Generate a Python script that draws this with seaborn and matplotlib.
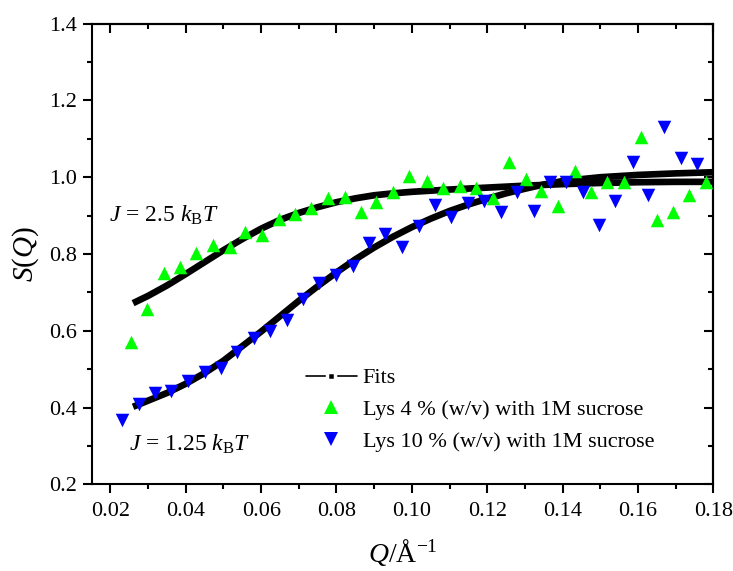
import numpy as np
import pandas as pd
import matplotlib
matplotlib.use("Agg")
import matplotlib.pyplot as plt
from matplotlib.lines import Line2D
from matplotlib.ticker import MultipleLocator
import seaborn as sns

# Measured structure factor, Lys 4 % (w/v) with 1M sucrose
q_lys4 = [0.0255, 0.0297, 0.0341, 0.0384, 0.0428, 0.0472, 0.0516, 0.0558, 0.0602,
          0.0647, 0.0689, 0.0733, 0.0777, 0.0822, 0.0864, 0.0906, 0.0951, 0.0993,
          0.1039, 0.1083, 0.1127, 0.1171, 0.1215, 0.1258, 0.1302, 0.1344, 0.1389,
          0.1433, 0.1475, 0.1519, 0.1563, 0.1608, 0.1652, 0.1692, 0.1736, 0.1782]
s_lys4 = [0.571, 0.656, 0.751, 0.765, 0.802, 0.823, 0.818, 0.857, 0.849,
          0.891, 0.903, 0.921, 0.945, 0.949, 0.909, 0.935, 0.961, 1.003,
          0.991, 0.971, 0.978, 0.971, 0.945, 1.041, 0.995, 0.964, 0.925,
          1.017, 0.962, 0.987, 0.987, 1.105, 0.889, 0.910, 0.954, 0.988]

# Measured structure factor, Lys 10 % (w/v) with 1M sucrose
q_lys10 = [0.0231, 0.0275, 0.0319, 0.0362, 0.0406, 0.0450, 0.0494, 0.0537, 0.0580,
           0.0624, 0.0668, 0.0712, 0.0754, 0.0799, 0.0843, 0.0885, 0.0929, 0.0974,
           0.1019, 0.1061, 0.1105, 0.1149, 0.1192, 0.1236, 0.1279, 0.1323, 0.1367,
           0.1410, 0.1454, 0.1498, 0.1540, 0.1586, 0.1628, 0.1670, 0.1714, 0.1758]
s_lys10 = [0.368, 0.409, 0.437, 0.444, 0.470, 0.493, 0.502, 0.544, 0.582,
           0.599, 0.628, 0.682, 0.724, 0.745, 0.769, 0.828, 0.852, 0.817,
           0.874, 0.928, 0.897, 0.934, 0.938, 0.910, 0.962, 0.913, 0.987,
           0.987, 0.962, 0.876, 0.939, 1.039, 0.954, 1.130, 1.049, 1.034]

# Model fits
q_fit_hi = [0.026, 0.030, 0.035, 0.040, 0.045, 0.050, 0.055, 0.060, 0.065, 0.070,
            0.075, 0.080, 0.085, 0.090, 0.095, 0.100, 0.110, 0.120, 0.130, 0.140,
            0.150, 0.160, 0.170, 0.180]
s_fit_hi = [0.672, 0.691, 0.718, 0.748, 0.779, 0.810, 0.839, 0.866, 0.889, 0.907,
            0.922, 0.935, 0.945, 0.953, 0.958, 0.962, 0.968, 0.973, 0.978, 0.982,
            0.985, 0.987, 0.988, 0.988]

q_fit_lo = [0.026, 0.030, 0.035, 0.040, 0.045, 0.050, 0.055, 0.060, 0.065, 0.070,
            0.075, 0.080, 0.085, 0.090, 0.095, 0.100, 0.105, 0.110, 0.115, 0.120,
            0.125, 0.130, 0.135, 0.140, 0.150, 0.160, 0.170, 0.180]
s_fit_lo = [0.402, 0.418, 0.438, 0.462, 0.490, 0.522, 0.560, 0.598, 0.638, 0.678,
            0.716, 0.752, 0.786, 0.817, 0.845, 0.870, 0.892, 0.912, 0.929, 0.944,
            0.958, 0.970, 0.981, 0.990, 1.000, 1.006, 1.010, 1.013]

x_ticks = [0.02, 0.04, 0.06, 0.08, 0.10, 0.12, 0.14, 0.16, 0.18]
x_tick_labels = ["0.02", "0.04", "0.06", "0.08", "0.10", "0.12", "0.14", "0.16", "0.18"]
y_ticks = [0.2, 0.4, 0.6, 0.8, 1.0, 1.2, 1.4]
y_tick_labels = ["0.2", "0.4", "0.6", "0.8", "1.0", "1.2", "1.4"]

label_lys4 = "Lys 4 % (w/v) with 1M sucrose"
label_lys10 = "Lys 10 % (w/v) with 1M sucrose"

sns.set_theme(style="ticks")
plt.rcParams["font.family"] = ["Liberation Serif", "DejaVu Serif"]
plt.rcParams["mathtext.fontset"] = "custom"
plt.rcParams["mathtext.rm"] = "Liberation Serif"
plt.rcParams["mathtext.it"] = "Liberation Serif:italic"
plt.rcParams["mathtext.bf"] = "Liberation Serif:bold"
for key in ("text.color", "axes.labelcolor", "xtick.color", "ytick.color",
            "axes.edgecolor"):
    plt.rcParams[key] = "black"

fig = plt.figure(figsize=(7.33, 5.71), dpi=100)
ax = fig.add_axes([0.125, 0.1518, 0.848, 0.8067])

fits = pd.concat([
    pd.DataFrame({"q": q_fit_hi, "s": s_fit_hi, "J": "2.5"}),
    pd.DataFrame({"q": q_fit_lo, "s": s_fit_lo, "J": "1.25"}),
])
sns.lineplot(data=fits, x="q", y="s", units="J", estimator=None, color="black",
             linewidth=4.8, solid_capstyle="butt", ax=ax, legend=False, zorder=2)

df4 = pd.DataFrame({"q": q_lys4, "s": s_lys4})
df10 = pd.DataFrame({"q": q_lys10, "s": s_lys10})
sns.scatterplot(data=df4, x="q", y="s", marker="^", color="#00FF00", s=95,
                linewidth=0, ax=ax, zorder=3)
sns.scatterplot(data=df10, x="q", y="s", marker="v", color="#0000FF", s=95,
                linewidth=0, ax=ax, zorder=3)

ax.set_xlim(0.015, 0.18)
ax.set_ylim(0.2, 1.4)
ax.set_xticks(x_ticks)
ax.set_xticklabels(x_tick_labels)
ax.set_yticks(y_ticks)
ax.set_yticklabels(y_tick_labels)
ax.xaxis.set_minor_locator(MultipleLocator(0.01))
ax.yaxis.set_minor_locator(MultipleLocator(0.1))

for sp in ax.spines.values():
    sp.set_visible(True)
    sp.set_linewidth(1.5)
    sp.set_color("black")

ax.tick_params(which="major", direction="out", length=6.5, width=1.5,
               labelsize=16, colors="black")
ax.tick_params(which="minor", direction="out", length=3.6, width=1.5)
ax.tick_params(axis="x", which="major", pad=6.5)
ax.tick_params(axis="y", which="major", pad=4)

# mirrored inward ticks on top and right
top = ax.secondary_xaxis("top")
top.set_xticks(x_ticks)
top.xaxis.set_minor_locator(MultipleLocator(0.01))
top.tick_params(which="major", direction="in", length=6.5, width=1.5, labeltop=False)
top.tick_params(which="minor", direction="in", length=3.6, width=1.5)
top.spines["top"].set_linewidth(1.5)
right = ax.secondary_yaxis("right")
right.set_yticks(y_ticks)
right.yaxis.set_minor_locator(MultipleLocator(0.1))
right.tick_params(which="major", direction="in", length=6.5, width=1.5, labelright=False)
right.tick_params(which="minor", direction="in", length=3.6, width=1.5)
right.spines["right"].set_linewidth(1.5)

ax.set_xlabel(r"$Q$/Å$^{\mathregular{-1}}$", fontsize=20, labelpad=11)
ax.set_ylabel(r"$S$($Q$)", fontsize=21, labelpad=6)

ax.text(0.0195, 0.902, r"$J$ = 2.5 $k_{\mathrm{B}}T$", fontsize=17,
        ha="left", va="center")
ax.text(0.0248, 0.305, r"$J$ = 1.25 $k_{\mathrm{B}}T$", fontsize=17,
        ha="left", va="center")

fit_handle = Line2D([], [], color="black", linewidth=1.2, marker="s", markersize=6,
                    markerfacecolor="black", markeredgecolor="white", markeredgewidth=2.5)
h4 = Line2D([], [], linestyle="none", marker="^", markersize=9.5,
            markerfacecolor="#00FF00", markeredgewidth=0)
h10 = Line2D([], [], linestyle="none", marker="v", markersize=9.5,
             markerfacecolor="#0000FF", markeredgewidth=0)
ax.legend([fit_handle, h4, h10], ["Fits", label_lys4, label_lys10],
          loc="upper left", bbox_to_anchor=(0.345, 0.253), frameon=False,
          fontsize=16, handlelength=2.27, handletextpad=0.27, labelspacing=0.5,
          borderpad=0, borderaxespad=0)

fig.savefig("out.png", dpi=100)
